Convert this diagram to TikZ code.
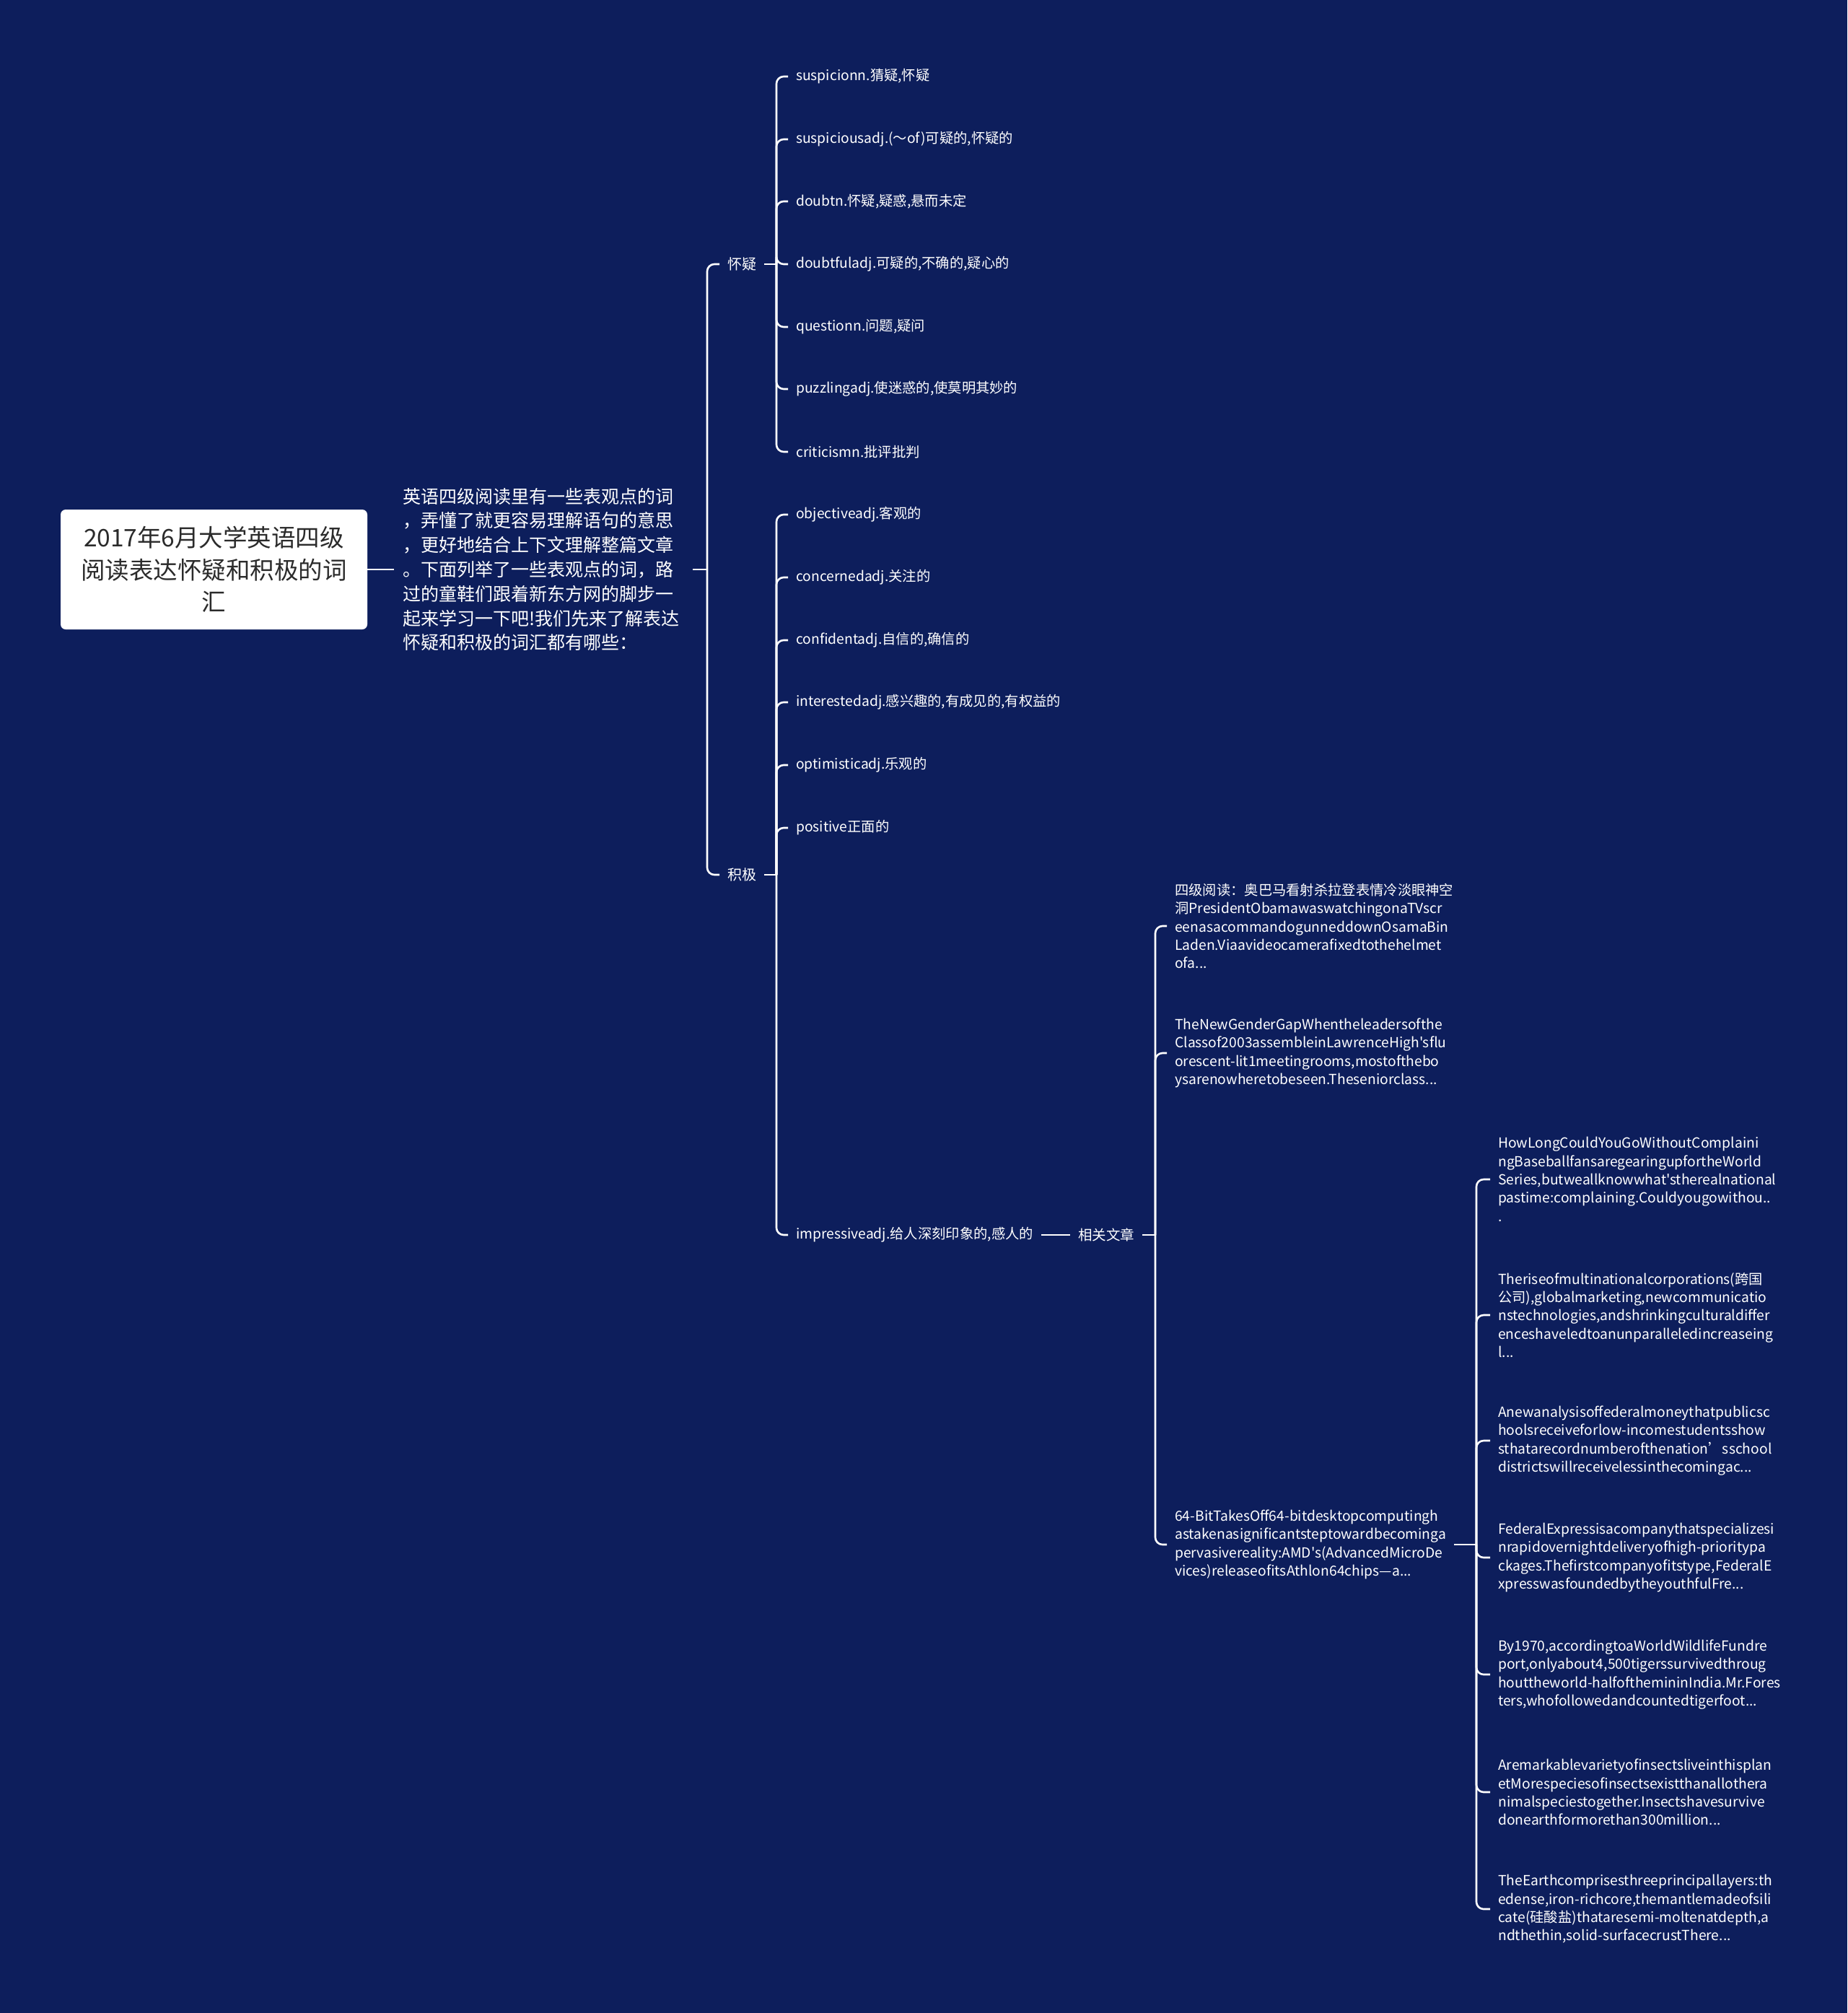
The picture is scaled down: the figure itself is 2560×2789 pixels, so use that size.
\documentclass[tikz,border=0pt]{standalone}
\usepackage{fontspec}
\setmainfont{Noto Sans CJK SC}[Ligatures=TeXOff]
\usepackage{tikz}
\usetikzlibrary{positioning}
\definecolor{mapbg}{HTML}{0D1E5C}
\definecolor{roottext}{HTML}{2B2B2B}
\tikzset{
  link/.style={draw=white,line width=2.6pt,rounded corners=10pt},
  rootbox/.style={fill=white,rounded corners=7pt,text=roottext,align=center,
    minimum width=425pt,minimum height=166pt,font=\fontsize{33.5}{44.5}\selectfont},
  intro/.style={anchor=west,text=white,align=left,text width=390pt,inner xsep=12pt,
    font=\fontsize{25}{33.8}\selectfont},
  branch/.style={anchor=west,text=white,inner xsep=11pt,font=\fontsize{20}{24}\selectfont},
  leaf/.style={anchor=west,text=white,inner xsep=11pt,font=\fontsize{19.3}{24}\selectfont},
  article/.style={anchor=west,text=white,align=left,inner xsep=11pt,
    font=\fontsize{19.3}{25.3}\selectfont},
}
\begin{document}
\begin{tikzpicture}[x=1pt,y=-1pt]
% background and page size
\fill[mapbg] (0,0) rectangle (2560,2789);
\useasboundingbox (0,0) rectangle (2560,2789);
% root and intro
\node[rootbox] (root) at (296.5,789) {2017年6月大学英语四级\\阅读表达怀疑和积极的词\\汇};
\node[intro] (intro) at (546,789) {英语四级阅读里有一些表观点的词\\，弄懂了就更容易理解语句的意思\\，更好地结合上下文理解整篇文章\\。下面列举了一些表观点的词，路\\过的童鞋们跟着新东方网的脚步一\\起来学习一下吧!我们先来了解表达\\怀疑和积极的词汇都有哪些：};
\draw[link] (root.east) -- (intro.west);
% two branches
\coordinate (jintro) at (980,789);
\node[branch] (doubt) at (997,366) {怀疑};
\node[branch] (posit) at (997,1212) {积极};
\draw[link] (intro.east) -- (jintro);
\draw[link] (jintro) |- (doubt.west);
\draw[link] (jintro) |- (posit.west);
% words of doubt
\coordinate (jdoubt) at (1076,366);
\node[leaf] (d1) at (1092,106) {suspicionn.猜疑,怀疑};
\node[leaf] (d2) at (1092,193) {suspiciousadj.(～of)可疑的,怀疑的};
\node[leaf] (d3) at (1092,279) {doubtn.怀疑,疑惑,悬而未定};
\node[leaf] (d4) at (1092,366) {doubtfuladj.可疑的,不确的,疑心的};
\node[leaf] (d5) at (1092,453) {questionn.问题,疑问};
\node[leaf] (d6) at (1092,539) {puzzlingadj.使迷惑的,使莫明其妙的};
\node[leaf] (d7) at (1092,626) {criticismn.批评批判};
\draw[link] (doubt.east) -- (jdoubt);
\foreach \k in {1,...,7} {\draw[link] (jdoubt) |- (d\k.west);}
% positive words
\coordinate (jposit) at (1076,1212);
\node[leaf] (p1) at (1092,713) {objectiveadj.客观的};
\node[leaf] (p2) at (1092,800) {concernedadj.关注的};
\node[leaf] (p3) at (1092,887) {confidentadj.自信的,确信的};
\node[leaf] (p4) at (1092,973) {interestedadj.感兴趣的,有成见的,有权益的};
\node[leaf] (p5) at (1092,1060) {optimisticadj.乐观的};
\node[leaf] (p6) at (1092,1147) {positive正面的};
\node[leaf] (p7) at (1092,1711) {impressiveadj.给人深刻印象的,感人的};
\draw[link] (posit.east) -- (jposit);
\foreach \k in {1,...,7} {\draw[link] (jposit) |- (p\k.west);}
% related articles
\node[branch,font=\fontsize{19.5}{24}\selectfont] (rel) at (1483,1711) {相关文章};
\draw[link] (p7.east) -- (rel.west);
\coordinate (jrel) at (1601,1711);
\node[article] (a1) at (1617,1283) {四级阅读：奥巴马看射杀拉登表情冷淡眼神空\\洞PresidentObamawaswatchingonaTVscr\\eenasacommandogunneddownOsamaBin\\Laden.Viaavideocamerafixedtothehelmet\\ofa...};
\node[article] (a2) at (1617,1459) {TheNewGenderGapWhentheleadersofthe\\Classof2003assembleinLawrenceHigh'sflu\\orescent-lit1meetingrooms,mostofthebo\\ysarenowheretobeseen.Theseniorclass...};
\node[article] (a3) at (1617,2140) {64-BitTakesOff64-bitdesktopcomputingh\\astakenasignificantsteptowardbecominga\\pervasivereality:AMD's(AdvancedMicroDe\\vices)releaseofitsAthlon64chips—a...};
\draw[link] (rel.east) -- (jrel);
\foreach \k in {1,2,3} {\draw[link] (jrel) |- (a\k.west);}
% more articles
\coordinate (jmore) at (2046,2140);
\node[article] (s1) at (2065,1634) {HowLongCouldYouGoWithoutComplaini\\ngBaseballfansaregearingupfortheWorld\\Series,butweallknowwhat'stherealnational\\pastime:complaining.Couldyougowithou..\\.};
\node[article] (s2) at (2065,1822) {Theriseofmultinationalcorporations(跨国\\公司),globalmarketing,newcommunicatio\\nstechnologies,andshrinkingculturaldiffer\\enceshaveledtoanunparalleledincreaseing\\l...};
\node[article] (s3) at (2065,1996) {Anewanalysisoffederalmoneythatpublicsc\\hoolsreceiveforlow-incomestudentsshow\\sthatarecordnumberofthenation’sschool\\districtswillreceivelessinthecomingac...};
\node[article] (s4) at (2065,2158) {FederalExpressisacompanythatspecializesi\\nrapidovernightdeliveryofhigh-prioritypa\\ckages.Thefirstcompanyofitstype,FederalE\\xpresswasfoundedbytheyouthfulFre...};
\node[article] (s5) at (2065,2320) {By1970,accordingtoaWorldWildlifeFundre\\port,onlyabout4,500tigerssurvivedthroug\\houttheworld-halfofthemininIndia.Mr.Fores\\ters,whofollowedandcountedtigerfoot...};
\node[article] (s6) at (2065,2483) {Aremarkablevarietyofinsectsliveinthisplan\\etMorespeciesofinsectsexistthanallothera\\nimalspeciestogether.Insectshavesurvive\\donearthformorethan300million...};
\node[article] (s7) at (2065,2645) {TheEarthcomprisesthreeprincipallayers:th\\edense,iron-richcore,themantlemadeofsili\\cate(硅酸盐)thataresemi-moltenatdepth,a\\ndthethin,solid-surfacecrustThere...};
\draw[link] (a3.east) -- (jmore);
\foreach \k in {1,...,7} {\draw[link] (jmore) |- (s\k.west);}
\end{tikzpicture}
\end{document}
